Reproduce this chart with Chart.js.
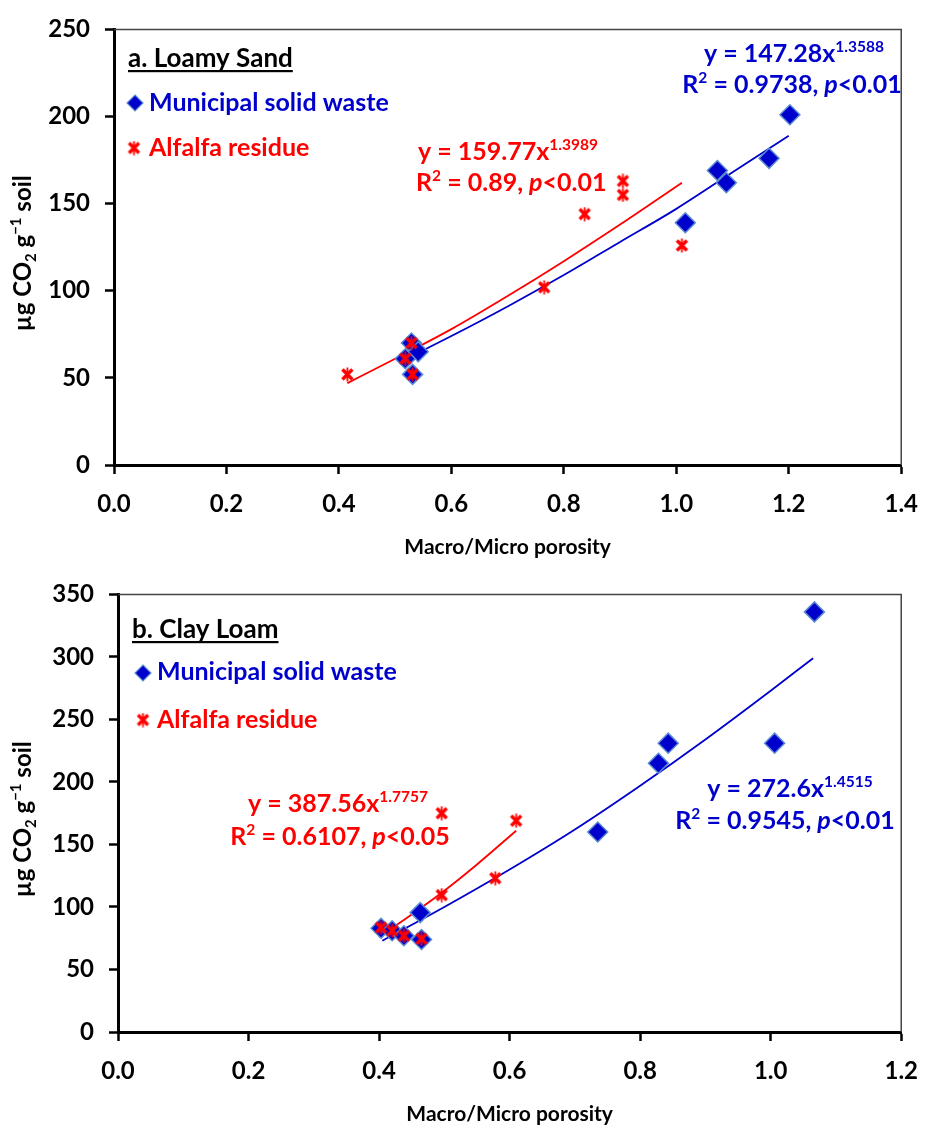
<!DOCTYPE html>
<html>
<head>
<meta charset="utf-8">
<script src="https://cdn.jsdelivr.net/npm/chart.js@4.4.1/dist/chart.umd.min.js"></script>
<style>
  html, body { margin: 0; padding: 0; background: #fff; }
  .wrap { width: 934px; height: 565px; position: relative; }
  canvas { display: block; }
</style>
</head>
<body>
<div class="wrap"><canvas id="chartSand" width="934" height="565"></canvas></div>
<div class="wrap"><canvas id="chartClay" width="934" height="565"></canvas></div>
<script>
// a. Loamy Sand
const sandMswX = [0.529, 0.541, 0.518, 0.531, 1.016, 1.073, 1.089, 1.165, 1.202];
const sandMswY = [70, 65, 61, 52, 139, 169, 162, 176, 201];
const sandAlfX = [0.415, 0.518, 0.529, 0.531, 0.765, 0.837, 0.905, 0.905, 1.010];
const sandAlfY = [52, 61, 70, 52, 102, 144, 163, 155, 126];
// trend lines
const sandMswFitX = [0.52, 0.6, 0.7, 0.8, 0.9, 1.0, 1.1, 1.2];
const sandMswFitY = [61, 74, 91, 109, 128, 147, 168, 189];
const sandAlfFitX = [0.415, 0.5, 0.6, 0.7, 0.8, 0.9, 1.01];
const sandAlfFitY = [47, 61, 78, 97, 117, 138, 162];

// b. Clay Loam
const clayMswX = [0.403, 0.42, 0.438, 0.463, 0.465, 0.735, 0.828, 0.843, 1.006, 1.067];
const clayMswY = [83, 81, 77, 95.5, 74, 160, 215, 231, 231, 336];
const clayAlfX = [0.403, 0.42, 0.438, 0.465, 0.496, 0.496, 0.578, 0.610];
const clayAlfY = [83.5, 81, 77, 74.5, 175, 109.5, 123, 169];
const clayMswFitX = [0.405, 0.5, 0.6, 0.7, 0.8, 0.9, 1.0, 1.065];
const clayMswFitY = [73, 100, 130, 162, 197, 234, 273, 299];
const clayAlfFitX = [0.4, 0.45, 0.5, 0.55, 0.61];
const clayAlfFitY = [76, 94, 113, 134, 161];

const BLUE = '#0000cc';
const RED = '#ff0000';
const FONT = 'Lato';

const pairs = (xs, ys) => xs.map((x, i) => ({ x: x, y: ys[i] }));

// red star marker (X with a short vertical bar)
const starImg = document.createElement('canvas');
starImg.width = 15; starImg.height = 15;
(function () {
    const g = starImg.getContext('2d');
    g.strokeStyle = RED;
    g.lineWidth = 3.4;
    g.beginPath();
    g.moveTo(2.5, 2.5); g.lineTo(12.5, 12.5);
    g.moveTo(12.5, 2.5); g.lineTo(2.5, 12.5);
    g.stroke();
    g.lineWidth = 1.8;
    g.beginPath();
    g.moveTo(7.5, 0.5); g.lineTo(7.5, 14.5);
    g.stroke();
})();

function drawDiamond(ctx, x, y, r) {
    ctx.beginPath();
    ctx.moveTo(x, y - r); ctx.lineTo(x + r, y); ctx.lineTo(x, y + r); ctx.lineTo(x - r, y);
    ctx.closePath();
    ctx.fillStyle = BLUE;
    ctx.fill();
    ctx.strokeStyle = '#5b8bd0';
    ctx.lineWidth = 1.2;
    ctx.stroke();
}

// text with superscripts / subscripts / italics
function richText(ctx, parts, x, y, size, color, align) {
    const fontOf = p => (p.i ? 'italic ' : '') + 'bold ' + (p.s ? size * 0.62 : size) + 'px ' + FONT;
    let w = 0;
    parts.forEach(p => { ctx.font = fontOf(p); w += ctx.measureText(p.t).width; });
    let cx = x;
    if (align === 'center') cx = x - w / 2;
    if (align === 'right') cx = x - w;
    const start = cx;
    ctx.fillStyle = color;
    ctx.textAlign = 'left';
    ctx.textBaseline = 'alphabetic';
    parts.forEach(p => {
        ctx.font = fontOf(p);
        const dy = p.s === 'sup' ? -size * 0.4 : (p.s === 'sub' ? size * 0.2 : 0);
        ctx.fillText(p.t, cx, y + dy);
        cx += ctx.measureText(p.t).width;
    });
    return { start: start, width: w };
}

const yTitle = [{ t: '\u00b5g CO' }, { t: '2', s: 'sub' }, { t: ' g' }, { t: '\u22121', s: 'sup' }, { t: ' soil' }];

function notesPlugin(notes) {
    return {
        id: 'notes',
        beforeDatasetsDraw(chart) {
            const { ctx, chartArea: a } = chart;
            ctx.save();
            ctx.strokeStyle = '#444';
            ctx.lineWidth = 1.5;
            ctx.beginPath();
            ctx.moveTo(a.left, a.top); ctx.lineTo(a.right, a.top); ctx.lineTo(a.right, a.bottom);
            ctx.stroke();
            ctx.restore();
        },
        afterDraw(chart) {
            const { ctx, chartArea: a } = chart;
            ctx.save();
            // y axis title
            ctx.translate(23, (a.top + a.bottom) / 2 + 6);
            ctx.rotate(-Math.PI / 2);
            richText(ctx, yTitle, 0, 8, 24, '#000', 'center');
            ctx.restore();

            notes.forEach(n => {
                ctx.save();
                if (n.marker === 'diamond') {
                    drawDiamond(ctx, n.x, n.y, 8);
                } else if (n.marker === 'star') {
                    ctx.drawImage(starImg, n.x - 7.5, n.y - 7.5);
                } else {
                    const r = richText(ctx, n.parts, n.x, n.y, n.size || 25, n.color, n.align || 'left');
                    if (n.underline) {
                        ctx.fillRect(r.start, n.y + 3, r.width, 2.2);
                    }
                }
                ctx.restore();
            });
        }
    };
}

function buildChart(id, p) {
    return new Chart(document.getElementById(id), {
        type: 'scatter',
        data: {
            datasets: [
                { data: pairs(p.alfX, p.alfY), pointStyle: starImg, pointRadius: 7, order: 0 },
                {
                    data: pairs(p.mswX, p.mswY), pointStyle: 'rectRot', pointRadius: 10,
                    backgroundColor: BLUE, borderColor: '#5b8bd0', borderWidth: 1.5, order: 1
                },
                {
                    data: pairs(p.alfFitX, p.alfFitY), showLine: true, pointRadius: 0,
                    borderColor: RED, borderWidth: 1.8, cubicInterpolationMode: 'monotone', order: 2
                },
                {
                    data: pairs(p.mswFitX, p.mswFitY), showLine: true, pointRadius: 0,
                    borderColor: BLUE, borderWidth: 1.8, cubicInterpolationMode: 'monotone', order: 3
                }
            ]
        },
        options: {
            responsive: false,
            animation: false,
            events: [],
            layout: { padding: { top: 26, right: p.padRight, left: 0, bottom: 0 } },
            plugins: { legend: { display: false }, tooltip: { enabled: false } },
            scales: {
                x: {
                    type: 'linear', min: 0, max: p.xMax,
                    ticks: {
                        stepSize: 0.2, autoSkip: false, maxRotation: 0, padding: 16,
                        color: '#000', font: { family: FONT, size: 24, weight: 'bold' },
                        callback: v => v.toFixed(1)
                    },
                    grid: { drawOnChartArea: false, tickLength: 9, tickWidth: 2.5, tickColor: '#000' },
                    border: { color: '#000', width: 3 },
                    title: {
                        display: true, text: 'Macro/Micro porosity', color: '#000',
                        font: { family: FONT, size: 21, weight: 'bold' }, padding: { bottom: p.titlePad }
                    },
                    afterFit: s => { s.height = p.xAxisH; }
                },
                y: {
                    type: 'linear', min: 0, max: p.yMax,
                    ticks: {
                        stepSize: 50, padding: 15, color: '#000',
                        font: { family: FONT, size: 24, weight: 'bold' }
                    },
                    grid: { drawOnChartArea: false, tickLength: 9, tickWidth: 2.5, tickColor: '#000' },
                    border: { color: '#000', width: 3 },
                    afterFit: s => { s.width = p.yAxisW; }
                }
            }
        },
        plugins: [notesPlugin(p.notes)]
    });
}

buildChart('chartSand', {
    mswX: sandMswX, mswY: sandMswY, alfX: sandAlfX, alfY: sandAlfY,
    mswFitX: sandMswFitX, mswFitY: sandMswFitY, alfFitX: sandAlfFitX, alfFitY: sandAlfFitY,
    xMax: 1.4, yMax: 250, yAxisW: 114, xAxisH: 100, padRight: 24, titlePad: 5,
    notes: [
        { parts: [{ t: 'a. Loamy Sand' }], x: 128, y: 67, size: 26, color: '#000', underline: true },
        { marker: 'diamond', x: 135, y: 103 },
        { parts: [{ t: 'Municipal solid waste' }], x: 149, y: 111, color: BLUE },
        { marker: 'star', x: 134, y: 148 },
        { parts: [{ t: 'Alfalfa residue' }], x: 149, y: 156, color: RED },
        { parts: [{ t: 'y = 147.28x' }, { t: '1.3588', s: 'sup' }], x: 794, y: 62, color: BLUE, align: 'center' },
        { parts: [{ t: 'R' }, { t: '2', s: 'sup' }, { t: ' = 0.9738, ' }, { t: 'p', i: 1 }, { t: '<0.01' }], x: 792, y: 93, color: BLUE, align: 'center' },
        { parts: [{ t: 'y = 159.77x' }, { t: '1.3989', s: 'sup' }], x: 418, y: 160, color: RED },
        { parts: [{ t: 'R' }, { t: '2', s: 'sup' }, { t: ' = 0.89, ' }, { t: 'p', i: 1 }, { t: '<0.01' }], x: 416, y: 191, color: RED }
    ]
});

buildChart('chartClay', {
    mswX: clayMswX, mswY: clayMswY, alfX: clayAlfX, alfY: clayAlfY,
    mswFitX: clayMswFitX, mswFitY: clayMswFitY, alfFitX: clayAlfFitX, alfFitY: clayAlfFitY,
    xMax: 1.2, yMax: 350, yAxisW: 118, xAxisH: 98, padRight: 20, titlePad: 3,
    notes: [
        { parts: [{ t: 'b. Clay Loam' }], x: 132, y: 73, size: 26, color: '#000', underline: true },
        { marker: 'diamond', x: 143, y: 108 },
        { parts: [{ t: 'Municipal solid waste' }], x: 157, y: 115, color: BLUE },
        { marker: 'star', x: 143, y: 155 },
        { parts: [{ t: 'Alfalfa residue' }], x: 157, y: 163, color: RED },
        { parts: [{ t: 'y = 272.6x' }, { t: '1.4515', s: 'sup' }], x: 790, y: 232, color: BLUE, align: 'center' },
        { parts: [{ t: 'R' }, { t: '2', s: 'sup' }, { t: ' = 0.9545, ' }, { t: 'p', i: 1 }, { t: '<0.01' }], x: 785, y: 264, color: BLUE, align: 'center' },
        { parts: [{ t: 'y = 387.56x' }, { t: '1.7757', s: 'sup' }], x: 338, y: 247, color: RED, align: 'center' },
        { parts: [{ t: 'R' }, { t: '2', s: 'sup' }, { t: ' = 0.6107, ' }, { t: 'p', i: 1 }, { t: '<0.05' }], x: 340, y: 280, color: RED, align: 'center' }
    ]
});
</script>
</body>
</html>
